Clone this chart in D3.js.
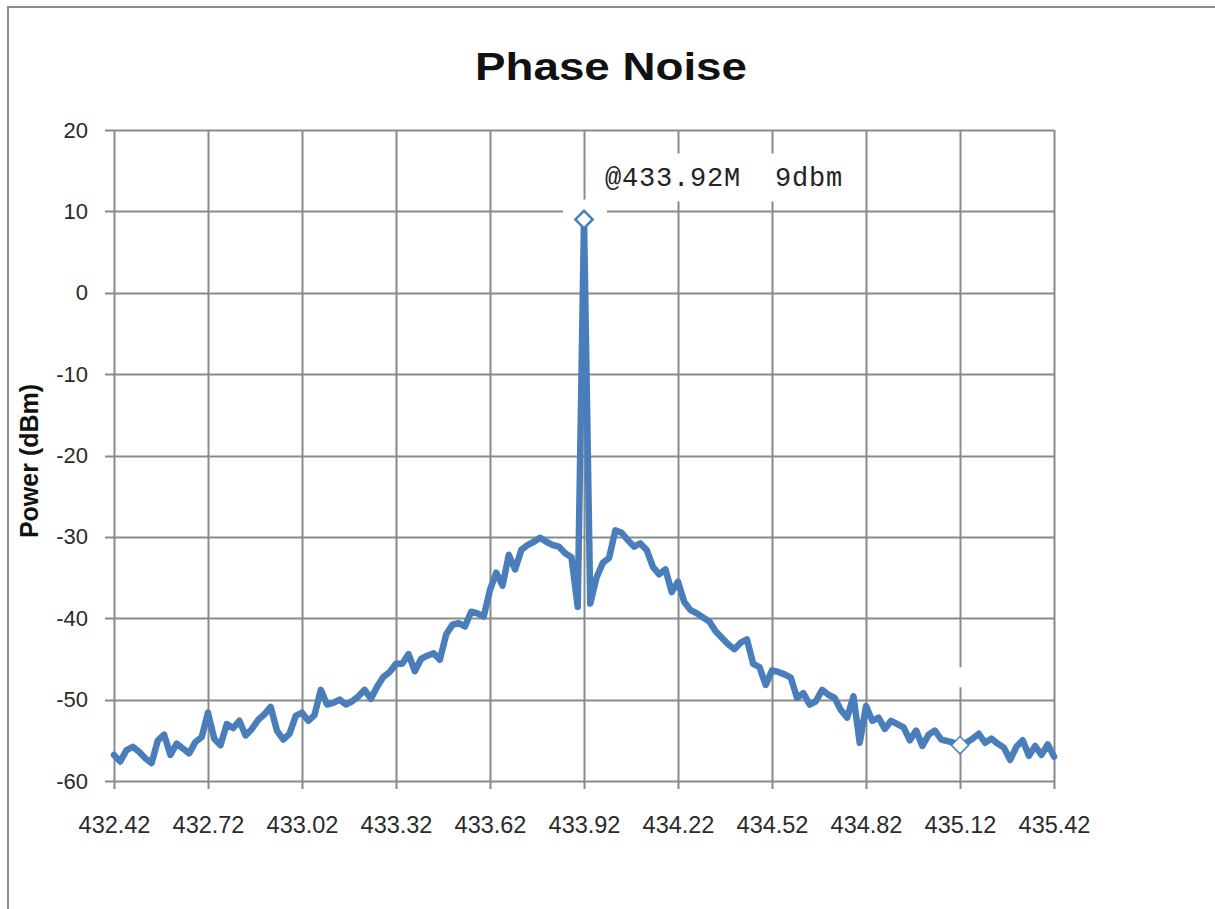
<!DOCTYPE html>
<html>
<head>
<meta charset="utf-8">
<script src="https://cdn.jsdelivr.net/npm/d3@7"></script>
<style>
    body { margin: 0; background: #fff; }
    svg { display: block; }
</style>
</head>
<body>
<div id="chart"></div>
<script>
/* global d3 */

// sweep start and spacing of the analyser samples (MHz)
var sweepStart = 432.42,
    sweepStep = 0.02;

var powerDbm = [
    -56.8, -57.6, -56.2, -55.8, -56.4, -57.2, -57.8, -55.0, -54.3, -56.8,
    -55.4, -56.0, -56.6, -55.2, -54.6, -51.6, -54.8, -55.6, -53.0, -53.5,
    -52.6, -54.4, -53.6, -52.5, -51.8, -50.9, -53.8, -54.9, -54.2, -52.0,
    -51.6, -52.6, -51.9, -48.8, -50.6, -50.4, -50.0, -50.6, -50.2, -49.6,
    -48.8, -49.9, -48.4, -47.2, -46.6, -45.6, -45.6, -44.4, -46.5, -45.0,
    -44.6, -44.3, -45.1, -42.0, -40.8, -40.6, -41.0, -39.2, -39.4, -39.8,
    -36.5, -34.4, -36.0, -32.2, -34.0, -31.6, -31.0, -30.6, -30.1, -30.6,
    -31.0, -31.2, -32.0, -32.5, -38.6, 9.0, -38.2, -35.0, -33.2, -32.6,
    -29.2, -29.5, -30.4, -31.2, -30.8, -31.6, -33.7, -34.6, -34.0, -36.8,
    -35.5, -38.0, -39.0, -39.4, -39.9, -40.4, -41.6, -42.4, -43.2, -43.8,
    -43.0, -42.6, -45.6, -46.0, -48.2, -46.4, -46.6, -46.9, -47.3, -49.8,
    -49.2, -50.6, -50.2, -48.8, -49.4, -49.8, -51.3, -52.2, -49.6, -55.3,
    -50.8, -52.6, -52.2, -53.6, -52.6, -53.0, -53.4, -55.0, -53.8, -55.7,
    -54.3, -53.8, -54.9, -55.1, -55.3, -55.6, -55.3, -54.8, -54.2, -55.3,
    -54.8, -55.4, -55.9, -57.4, -55.8, -55.0, -56.9, -55.7, -56.8, -55.5,
    -57.0
];

// marked points
var markerFreq = [433.92, 435.12],
    markerPower = [9, -55.6],
    markerText = ["@433.92M  9dbm", ""];

// axis ticks
var xTicks = [432.42, 432.72, 433.02, 433.32, 433.62, 433.92, 434.22, 434.52, 434.82, 435.12, 435.42],
    yTicks = [-60, -50, -40, -30, -20, -10, 0, 10, 20];

var chartTitle = "Phase Noise",
    yTitle = "Power (dBm)";

(function () {
    "use strict";

    var width = 1215,
        height = 909,
        plot = { left: 114, right: 1054, top: 130, bottom: 781 },
        lineColor = "#4a7ebb",
        gridColor = "#8a8a8a",
        font = "Liberation Sans, Arial, sans-serif",
        data,
        x, y, svg, line;

    data = powerDbm.map(function (p, i) {
        return { f: sweepStart + i * sweepStep, p: p };
    });

    x = d3.scaleLinear()
        .domain([xTicks[0], xTicks[xTicks.length - 1]])
        .range([plot.left, plot.right]);

    y = d3.scaleLinear()
        .domain([yTicks[0], yTicks[yTicks.length - 1]])
        .range([plot.bottom, plot.top]);

    svg = d3.select("#chart")
        .append("svg")
        .attr("width", width)
        .attr("height", height);

    // outer frame (runs off the right and bottom edges)
    svg.append("rect")
        .attr("x", 8)
        .attr("y", 7)
        .attr("width", width)
        .attr("height", height)
        .attr("fill", "#fff")
        .attr("stroke", "#8c8c8c")
        .attr("stroke-width", 2);

    svg.append("text")
        .attr("x", 611)
        .attr("y", 80)
        .attr("text-anchor", "middle")
        .attr("font-family", font)
        .attr("font-weight", "bold")
        .attr("font-size", 38)
        .attr("textLength", 272)
        .attr("lengthAdjust", "spacingAndGlyphs")
        .attr("fill", "#111")
        .text(chartTitle);

    // grid
    svg.append("g")
        .selectAll("line")
        .data(xTicks)
        .enter()
        .append("line")
        .attr("x1", function (d) { return Math.round(x(d)) + 0.5; })
        .attr("x2", function (d) { return Math.round(x(d)) + 0.5; })
        .attr("y1", plot.top)
        .attr("y2", plot.bottom + 8)
        .attr("stroke", gridColor)
        .attr("stroke-width", 2);

    svg.append("g")
        .selectAll("line")
        .data(yTicks)
        .enter()
        .append("line")
        .attr("x1", plot.left - 9)
        .attr("x2", plot.right)
        .attr("y1", function (d) { return Math.round(y(d)) + 0.5; })
        .attr("y2", function (d) { return Math.round(y(d)) + 0.5; })
        .attr("stroke", gridColor)
        .attr("stroke-width", 2);

    // tick labels through the d3 axes, lines hidden (grid above does them)
    svg.append("g")
        .attr("transform", "translate(0," + plot.bottom + ")")
        .call(d3.axisBottom(x).tickValues(xTicks).tickSize(0).tickPadding(0).tickFormat(function (d) { return d.toFixed(2); }))
        .call(function (g) {
            g.select(".domain").remove();
            g.selectAll("text")
                .attr("y", 52)
                .attr("dy", null)
                .attr("font-family", font)
                .attr("font-size", 23.5)
                .attr("fill", "#2a2a2a");
        });

    svg.append("g")
        .attr("transform", "translate(" + plot.left + ",0)")
        .call(d3.axisLeft(y).tickValues(yTicks).tickSize(0).tickPadding(26).tickFormat(function (d) { return String(d); }))
        .call(function (g) {
            g.select(".domain").remove();
            g.selectAll("text")
                .attr("font-family", font)
                .attr("font-size", 22)
                .attr("fill", "#2a2a2a");
        });

    svg.append("text")
        .attr("transform", "translate(38," + 461 + ") rotate(-90)")
        .attr("text-anchor", "middle")
        .attr("font-family", font)
        .attr("font-weight", "bold")
        .attr("font-size", 25)
        .attr("fill", "#111")
        .text(yTitle);

    // label boxes sit on the grid, under the trace
    markerFreq.forEach(function (f, i) {
        var px = x(f), py = y(markerPower[i]);
        if (markerText[i]) {
            svg.append("rect")
                .attr("x", px + 6)
                .attr("y", py - 66)
                .attr("width", 272)
                .attr("height", 48)
                .attr("fill", "#fff");
            svg.append("rect")
                .attr("x", px - 21)
                .attr("y", py - 20)
                .attr("width", 44)
                .attr("height", 14)
                .attr("fill", "#fff");
        } else {
            svg.append("rect")
                .attr("x", px - 6)
                .attr("y", py - 78)
                .attr("width", 12)
                .attr("height", 20)
                .attr("fill", "#fff");
        }
    });

    line = d3.line()
        .x(function (d) { return x(d.f); })
        .y(function (d) { return y(d.p); });

    svg.append("path")
        .datum(data)
        .attr("d", line)
        .attr("fill", "none")
        .attr("stroke", lineColor)
        .attr("stroke-width", 6.5)
        .attr("stroke-linejoin", "round")
        .attr("stroke-linecap", "round");

    markerFreq.forEach(function (f, i) {
        var px = x(f), py = y(markerPower[i]);

        svg.append("path")
            .attr("d", d3.symbol().type(d3.symbolSquare).size(150)())
            .attr("transform", "translate(" + px + "," + py + ") rotate(45)")
            .attr("fill", "#fff")
            .attr("stroke", lineColor)
            .attr("stroke-width", i === 0 ? 2.5 : 1.5);

        if (markerText[i]) {
            svg.append("text")
                .attr("x", px + 21)
                .attr("y", py - 34)
                .attr("font-family", "Liberation Mono, DejaVu Sans Mono, monospace")
                .attr("font-size", 27)
                .attr("letter-spacing", 0.8)
                .style("white-space", "pre")
                .attr("fill", "#222")
                .text(markerText[i]);
        }
    });
}());
</script>
</body>
</html>
